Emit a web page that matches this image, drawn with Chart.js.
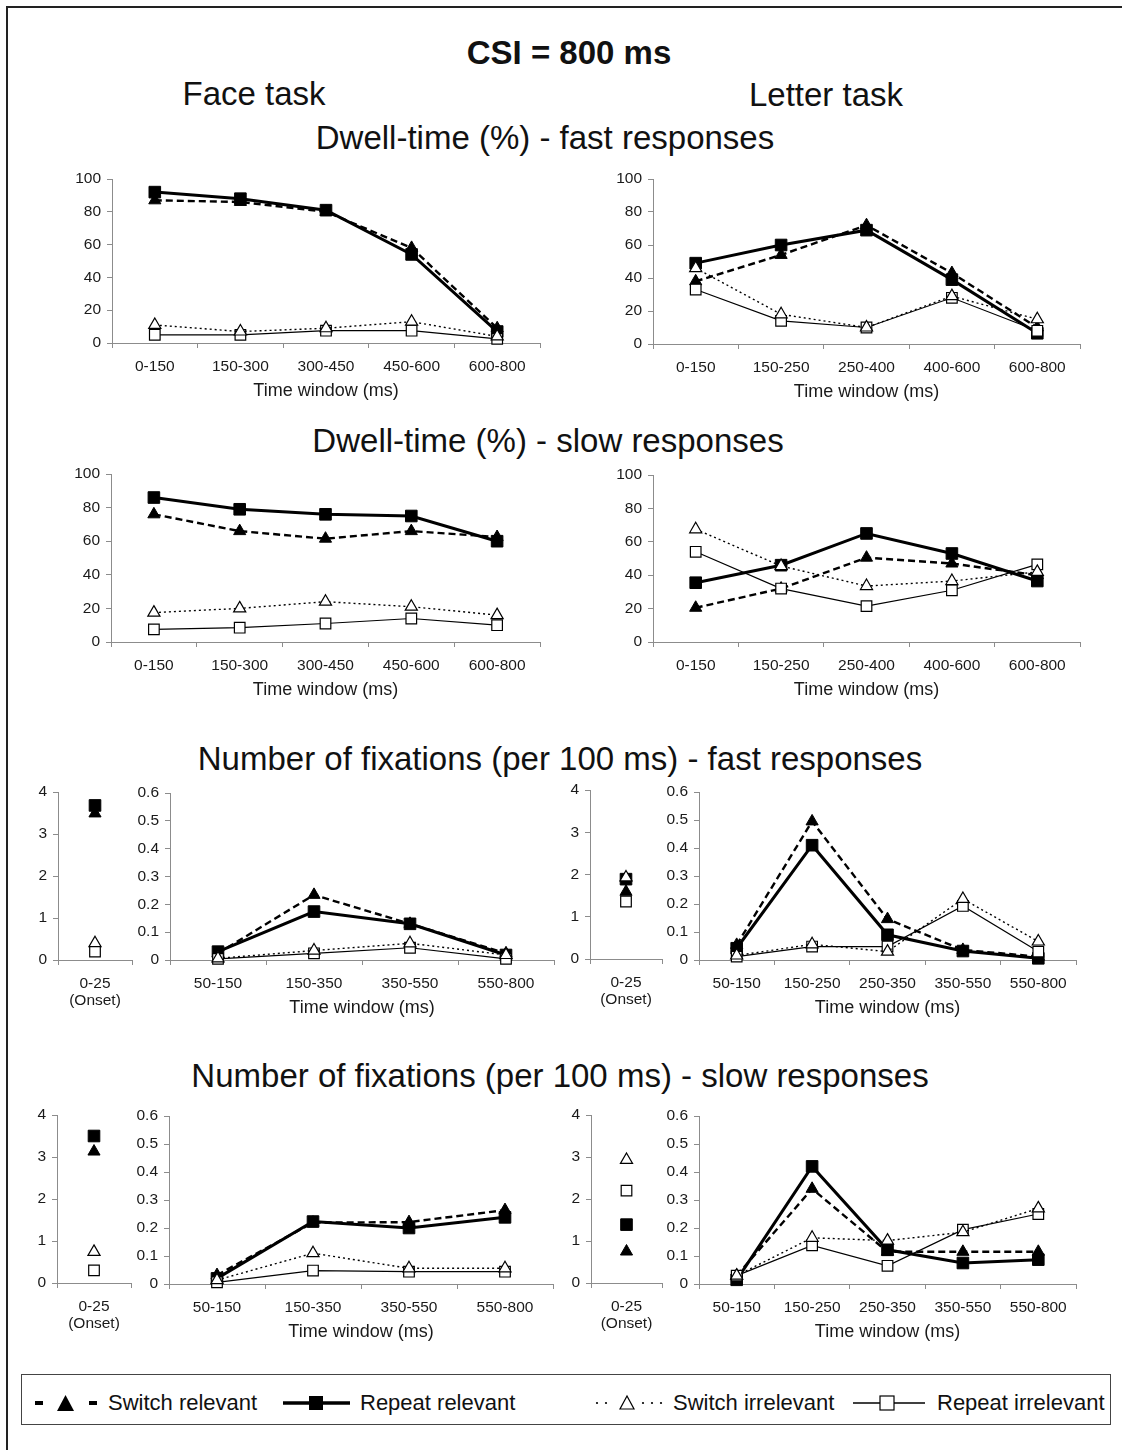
<!DOCTYPE html>
<html>
<head>
<meta charset="utf-8">
<script src="https://cdn.jsdelivr.net/npm/chart.js@4.4.1/dist/chart.umd.min.js"></script>
<style>
  body { margin: 0; background: #fff; font-family: "Liberation Sans", Arial, sans-serif; }
  #page { position: relative; width: 1122px; height: 1450px; overflow: hidden; background: #fff; }
  #frame { position: absolute; left: 6px; top: 6px; width: 1300px; height: 1600px;
           border-left: 2px solid #222; border-top: 2px solid #222; }
  .t { position: absolute; white-space: nowrap; transform: translate(-50%, -50%);
       font-size: 33px; line-height: 1; color: #111; }
  canvas { position: absolute; }
  #legend { position: absolute; left: 21px; top: 1374px; width: 1090px; height: 51px;
            border: 1px solid #444; box-sizing: border-box; }
  .lt { position: absolute; top: 1403px; transform: translateY(-50%); font-size: 22px;
        line-height: 1; white-space: nowrap; color: #111; }
</style>
</head>
<body>
<div id="page">
  <div id="frame"></div>
  <div class="t" style="left:569px;top:52px;font-weight:bold">CSI = 800 ms</div>
  <div class="t" style="left:254px;top:93px">Face task</div>
  <div class="t" style="left:826px;top:94px">Letter task</div>
  <div class="t" style="left:545px;top:137px">Dwell-time (%) - fast responses</div>
  <div class="t" style="left:548px;top:440px">Dwell-time (%) - slow responses</div>
  <div class="t" style="left:560px;top:758px">Number of fixations (per 100 ms) - fast responses</div>
  <div class="t" style="left:560px;top:1075px">Number of fixations (per 100 ms) - slow responses</div>

  <div id="legend"></div>
  <svg style="position:absolute;left:0;top:1380px" width="1122" height="46">
    <g transform="translate(0,23)">
      <!-- switch relevant -->
      <rect x="35" y="-2" width="8" height="4" fill="#000"/>
      <polygon points="57,8 74,8 65.5,-8" fill="#000"/>
      <rect x="89" y="-2" width="8" height="4" fill="#000"/>
      <!-- repeat relevant -->
      <line x1="283" y1="0" x2="350" y2="0" stroke="#000" stroke-width="3.5"/>
      <rect x="309" y="-7" width="14" height="14" fill="#000"/>
      <!-- switch irrelevant -->
      <circle cx="597" cy="0" r="1.1" fill="#000"/>
      <circle cx="606" cy="0" r="1.1" fill="#000"/>
      <polygon points="620,6 634,6 627,-7" fill="#fff" stroke="#000" stroke-width="1.2"/>
      <circle cx="643" cy="0" r="1.1" fill="#000"/>
      <circle cx="652" cy="0" r="1.1" fill="#000"/>
      <circle cx="661" cy="0" r="1.1" fill="#000"/>
      <!-- repeat irrelevant -->
      <line x1="853" y1="0" x2="925" y2="0" stroke="#000" stroke-width="1.5"/>
      <rect x="880" y="-7" width="14" height="14" fill="#fff" stroke="#000" stroke-width="1.2"/>
    </g>
  </svg>
  <div class="lt" style="left:108px">Switch relevant</div>
  <div class="lt" style="left:360px">Repeat relevant</div>
  <div class="lt" style="left:673px">Switch irrelevant</div>
  <div class="lt" style="left:937px">Repeat irrelevant</div>
</div>

<script>
// time windows (x categories)
const faceDwellWindows = ['0-150', '150-300', '300-450', '450-600', '600-800'];
const letterDwellWindows = ['0-150', '150-250', '250-400', '400-600', '600-800'];
const faceFixWindows = ['50-150', '150-350', '350-550', '550-800'];
const letterFixWindows = ['50-150', '150-250', '250-350', '350-550', '550-800'];
const onsetWindow = [['0-25', '(Onset)']];

// Dwell-time (%) - fast responses
const faceFastSwitchRel = [87, 86, 80, 58, 9];
const faceFastRepeatRel = [92, 88, 81, 54, 7];
const faceFastSwitchIrr = [11, 7, 9, 13, 4];
const faceFastRepeatIrr = [5, 5, 7.5, 7.5, 2.5];
const letterFastSwitchRel = [38, 54, 72, 43, 10];
const letterFastRepeatRel = [49, 60, 69, 39, 6.5];
const letterFastSwitchIrr = [46, 18, 10, 29, 15];
const letterFastRepeatIrr = [33, 14, 10, 28, 8];

// Dwell-time (%) - slow responses
const faceSlowSwitchRel = [76, 66, 61.5, 66, 62.5];
const faceSlowRepeatRel = [86, 79, 76, 75, 60];
const faceSlowSwitchIrr = [17.5, 20, 24, 21, 16];
const faceSlowRepeatIrr = [7.5, 8.5, 11, 14, 10];
const letterSlowSwitchRel = [20.5, 32, 50.5, 47, 40];
const letterSlowRepeatRel = [35.5, 46, 65, 53, 36.5];
const letterSlowSwitchIrr = [67.5, 45.5, 33.5, 36.5, 42];
const letterSlowRepeatIrr = [54, 32, 21.5, 31, 46.5];

// Number of fixations (per 100 ms) - fast responses
// onset order: switch rel, repeat rel, switch irr, repeat irr
const faceFixFastOnset = [3.49, 3.68, 0.4, 0.2];
const faceFixFastSwitchRel = [0.024, 0.234, 0.13, 0.024];
const faceFixFastRepeatRel = [0.03, 0.174, 0.13, 0.018];
const faceFixFastSwitchIrr = [0.006, 0.034, 0.06, 0.018];
const faceFixFastRepeatIrr = [0.004, 0.024, 0.044, 0.004];
const letterFixFastOnset = [1.59, 1.89, 1.93, 1.36];
const letterFixFastSwitchRel = [0.054, 0.495, 0.146, 0.036, 0.012];
const letterFixFastRepeatRel = [0.042, 0.41, 0.09, 0.032, 0.006];
const letterFixFastSwitchIrr = [0.016, 0.056, 0.03, 0.218, 0.066];
const letterFixFastRepeatIrr = [0.012, 0.048, 0.048, 0.193, 0.03];

// Number of fixations (per 100 ms) - slow responses
const faceFixSlowOnset = [3.13, 3.5, 0.74, 0.3];
const faceFixSlowSwitchRel = [0.032, 0.219, 0.221, 0.264];
const faceFixSlowRepeatRel = [0.02, 0.223, 0.2, 0.238];
const faceFixSlowSwitchIrr = [0.014, 0.11, 0.056, 0.056];
const faceFixSlowRepeatIrr = [0.006, 0.048, 0.044, 0.044];
const letterFixSlowOnset = [0.75, 1.39, 2.93, 2.2];
const letterFixSlowSwitchRel = [0.03, 0.34, 0.115, 0.115, 0.115];
const letterFixSlowRepeatRel = [0.015, 0.42, 0.122, 0.075, 0.087];
const letterFixSlowSwitchIrr = [0.03, 0.165, 0.155, 0.185, 0.27];
const letterFixSlowRepeatIrr = [0.03, 0.138, 0.065, 0.194, 0.25];


const AXIS = '#8c8c8c';
const INK = '#1a1a1a';
Chart.defaults.font.family = '"Liberation Sans", Arial, sans-serif';
Chart.defaults.color = INK;

// fixed axis box sizes so every plot area lands where the figure has it
const Y_W = 50, X_H = 64, PAD_T = 17, PAD_R = 14;

const STYLE = {
    switchRel: {borderWidth: 2.4, borderDash: [7, 4], pointStyle: 'triangle', pointRadius: 7,
        pointBackgroundColor: '#000', pointBorderWidth: 1},
    repeatRel: {borderWidth: 3, pointStyle: 'rect', pointRadius: 8.2,
        pointBackgroundColor: '#000', pointBorderWidth: 1},
    switchIrr: {borderWidth: 1.4, borderDash: [2, 3], pointStyle: 'triangle', pointRadius: 7,
        pointBackgroundColor: '#fff', pointBorderWidth: 1.2},
    repeatIrr: {borderWidth: 1.2, pointStyle: 'rect', pointRadius: 7.5,
        pointBackgroundColor: '#fff', pointBorderWidth: 1.2}
};

// first dataset is drawn on top
function series(switchRel, repeatRel, switchIrr, repeatIrr) {
    return [
        {data: switchIrr, ...STYLE.switchIrr},
        {data: repeatIrr, ...STYLE.repeatIrr},
        {data: repeatRel, ...STYLE.repeatRel},
        {data: switchRel, ...STYLE.switchRel}
    ].map(d => ({...d, borderColor: '#000', pointBorderColor: '#000', clip: false, tension: 0}));
}

function onset(vals) {
    return series([vals[0]], [vals[1]], [vals[2]], [vals[3]]);
}

function panel(area, labels, datasets, yScale, withTitle) {
    const [x0, y0, x1, y1] = area;
    const w = x1 - x0 + Y_W + PAD_R, h = y1 - y0 + PAD_T + X_H;
    const canvas = document.createElement('canvas');
    canvas.width = w;
    canvas.height = h;
    canvas.style.left = (x0 - Y_W) + 'px';
    canvas.style.top = (y0 - PAD_T) + 'px';
    canvas.style.width = w + 'px';
    canvas.style.height = h + 'px';
    document.getElementById('page').appendChild(canvas);

    new Chart(canvas, {
        type: 'line',
        data: {labels: labels, datasets: datasets},
        options: {
            responsive: false,
            animation: false,
            events: [],
            layout: {padding: {top: PAD_T, right: PAD_R, left: 0, bottom: 0}},
            plugins: {legend: {display: false}, tooltip: {enabled: false}},
            scales: {
                x: {
                    offset: true,
                    grid: {offset: true, drawOnChartArea: false, drawTicks: true, tickLength: 5, color: AXIS},
                    border: {color: AXIS, width: 1},
                    ticks: {color: INK, font: {size: 15.5, lineHeight: 1.1}, padding: 10,
                        maxRotation: 0, autoSkip: false},
                    title: {display: withTitle, text: 'Time window (ms)', color: INK,
                        font: {size: 18}, padding: {top: 0, bottom: 5}},
                    afterFit: s => { s.height = X_H; }
                },
                y: {
                    min: 0,
                    max: yScale.max,
                    grid: {drawOnChartArea: false, drawTicks: true, tickLength: 5, color: AXIS},
                    border: {color: AXIS, width: 1},
                    ticks: {stepSize: yScale.step, color: INK, font: {size: 15.5}, padding: 6,
                        callback: v => String(Math.round(v * 10) / 10)},
                    afterFit: s => { s.width = Y_W; }
                }
            }
        }
    });
}

const dwellY = {max: 100, step: 20};
const fixY = {max: 0.6, step: 0.1};
const onsetY = {max: 4, step: 1};

// Dwell-time, fast
panel([112, 179, 540, 343], faceDwellWindows,
    series(faceFastSwitchRel, faceFastRepeatRel, faceFastSwitchIrr, faceFastRepeatIrr), dwellY, true);
panel([653, 179, 1080, 344], letterDwellWindows,
    series(letterFastSwitchRel, letterFastRepeatRel, letterFastSwitchIrr, letterFastRepeatIrr), dwellY, true);

// Dwell-time, slow
panel([111, 474, 540, 642], faceDwellWindows,
    series(faceSlowSwitchRel, faceSlowRepeatRel, faceSlowSwitchIrr, faceSlowRepeatIrr), dwellY, true);
panel([653, 475, 1080, 642], letterDwellWindows,
    series(letterSlowSwitchRel, letterSlowRepeatRel, letterSlowSwitchIrr, letterSlowRepeatIrr), dwellY, true);

// Fixations, fast
panel([58, 792, 132, 960], onsetWindow, onset(faceFixFastOnset), onsetY, false);
panel([170, 793, 554, 960], faceFixWindows,
    series(faceFixFastSwitchRel, faceFixFastRepeatRel, faceFixFastSwitchIrr, faceFixFastRepeatIrr), fixY, true);
panel([590, 790, 662, 959], onsetWindow, onset(letterFixFastOnset), onsetY, false);
panel([699, 792, 1076, 960], letterFixWindows,
    series(letterFixFastSwitchRel, letterFixFastRepeatRel, letterFixFastSwitchIrr, letterFixFastRepeatIrr), fixY, true);

// Fixations, slow
panel([57, 1115, 131, 1283], onsetWindow, onset(faceFixSlowOnset), onsetY, false);
panel([169, 1116, 553, 1284], faceFixWindows,
    series(faceFixSlowSwitchRel, faceFixSlowRepeatRel, faceFixSlowSwitchIrr, faceFixSlowRepeatIrr), fixY, true);
panel([591, 1115, 662, 1283], onsetWindow, onset(letterFixSlowOnset), onsetY, false);
panel([699, 1116, 1076, 1284], letterFixWindows,
    series(letterFixSlowSwitchRel, letterFixSlowRepeatRel, letterFixSlowSwitchIrr, letterFixSlowRepeatIrr), fixY, true);
</script>
</body>
</html>
